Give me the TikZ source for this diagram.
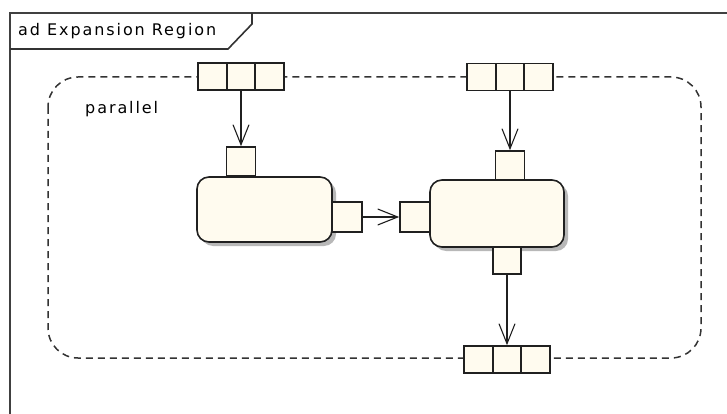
\documentclass[tikz,border=0pt]{standalone}
\usepackage{fontspec}
\setmainfont{DejaVu Sans}[LetterSpace=12]
\usetikzlibrary{arrows.meta,shadows}
\definecolor{cream}{HTML}{FFFBEF}
\definecolor{edge}{HTML}{202020}
\begin{document}
\begin{tikzpicture}[x=1pt,y=-1pt,
  lbl/.style={font=\fontsize{16}{19}\selectfont, inner sep=0pt, text=black},
  pincell/.style={draw=edge, fill=cream, line width=1.6pt, minimum width=28.5pt, minimum height=27pt, inner sep=0pt},
  pinsq/.style={draw=edge, fill=cream, line width=1.6pt, minimum width=29pt, minimum height=29pt, inner sep=0pt},
  actionbox/.style={draw=edge, fill=cream, line width=1.6pt, rounded corners=12pt, inner sep=0pt,
     drop shadow={shadow xshift=4pt, shadow yshift=-4pt, fill=black!35, opacity=0.8}},
  flow/.style={draw=edge, line width=1.5pt, -{Straight Barb[length=20pt,width=16pt,line width=1.1pt]}},
  region/.style={draw=black!80, line width=1.5pt, dash pattern=on 7pt off 5pt, rounded corners=30pt}
]
\useasboundingbox (0,0) rectangle (727,414);
% frame
\draw[line width=2.2pt, draw=black!75] (10,414) -- (10,13) -- (727,13);
\draw[line width=1.6pt, draw=black!80] (10,49) -- (228,49) -- (252,24) -- (252,13);
\node[lbl, anchor=west] (title) at (18,31) {ad Expansion Region};
% expansion region
\draw[region] (48,77) rectangle (701,358);
\node[lbl, anchor=base west] (par) at (85,114) {parallel};
% top-left pin group
\node[pincell] (a1) at (212.5,76.5) {};
\node[pincell] (a2) at (241,76.5) {};
\node[pincell] (a3) at (269.5,76.5) {};
% top-right pin group
\node[pincell] (b1) at (481.5,77) {};
\node[pincell] (b2) at (510,77) {};
\node[pincell] (b3) at (538.5,77) {};
% bottom pin group
\node[pincell] (c1) at (478.5,359.5) {};
\node[pincell] (c2) at (507,359.5) {};
\node[pincell] (c3) at (535.5,359.5) {};
% left action
\node[actionbox, minimum width=135pt, minimum height=65pt] (act1) at (264.5,209.5) {};
\node[pinsq] (p1in) at (241,161.5) {};
\node[pinsq, minimum width=30pt, minimum height=30pt] (p1out) at (347,217) {};
% right action
\node[actionbox, minimum width=134pt, minimum height=67pt] (act2) at (497,213.5) {};
\node[pinsq] (p2top) at (510,165.5) {};
\node[pinsq, minimum width=30pt, minimum height=30pt] (p2left) at (415,217) {};
\node[pinsq, minimum width=28pt, minimum height=27pt] (p2bot) at (507,260.5) {};
% flows
\draw[flow] (a2.south) -- (p1in.north);
\draw[flow] (b2.south) -- (p2top.north);
\draw[flow] (p1out.east) -- (p2left.west);
\draw[flow] (p2bot.south) -- (c2.north);
\end{tikzpicture}
\end{document}
